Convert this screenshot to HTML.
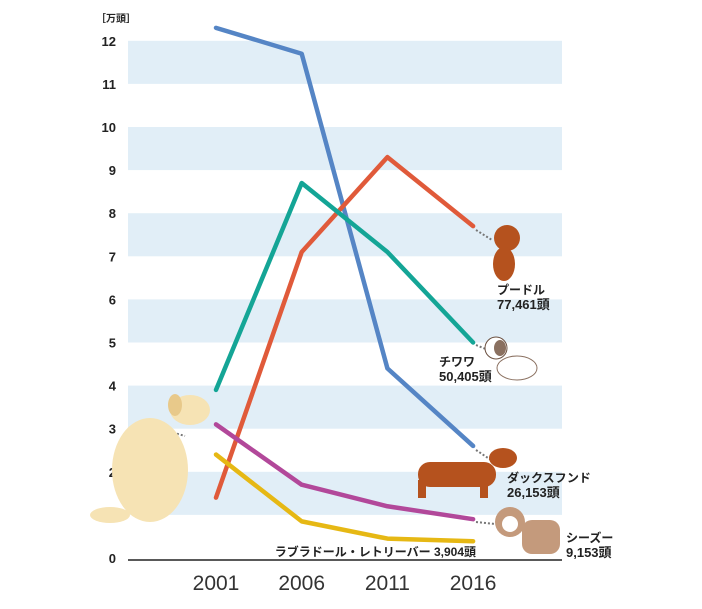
<!DOCTYPE html>
<html><head><meta charset="utf-8"><style>
body{margin:0;background:#fff;}
svg text{font-family:"Liberation Sans","Noto Sans CJK JP",sans-serif;}
</style></head><body>
<svg id="c" width="702" height="604" viewBox="0 0 702 604" xmlns="http://www.w3.org/2000/svg">
<g id="bands"></g><g id="yt"></g><g id="xt"></g><g id="lines"></g>
<g id="dogs"></g>
</svg>
<script>
const years=["2001","2006","2011","2016"];
const yTicks=[0,1,2,3,4,5,6,7,8,9,10,11,12];
const dachshund=[12.3,11.7,4.4,2.6];
const poodle=[1.4,7.1,9.3,7.7];
const chihuahua=[3.9,8.7,7.1,5.0];
const shihtzu=[3.1,1.7,1.2,0.9];
const labrador=[2.4,0.85,0.45,0.39];
const NS="http://www.w3.org/2000/svg";
const x=i=>216+i*85.7;
const y=v=>558-v*43.1;
function mk(t,a,p){const e=document.createElementNS(NS,t);for(const k in a)e.setAttribute(k,a[k]);p.appendChild(e);return e;}
const bands=document.getElementById('bands');
for(let v=1;v<12;v+=2){const r=mk('rect',{x:128,y:y(v+1),width:434,height:43.1,fill:'#e1eef7'},bands);

}
const base=mk('line',{x1:128,x2:562,y1:560,y2:560,stroke:'#222','stroke-width':1.5},bands);


const yt=document.getElementById('yt');
const unit=mk('text',{x:96,y:22,'font-size':10,'font-weight':'bold',fill:'#222'},yt);unit.textContent='［万頭］';


yTicks.forEach(v=>{const t=mk('text',{x:116,y:y(v)+5,'font-size':13,'font-weight':'bold','text-anchor':'end',fill:'#222'},yt);t.textContent=v;

});
const xt=document.getElementById('xt');
years.forEach((yr,i)=>{const t=mk('text',{x:x(i),y:590,'font-size':21,'text-anchor':'middle',fill:'#333'},xt);t.textContent=yr;

});
const lines=document.getElementById('lines');
[[dachshund,'#5585c5','dachshund-line'],[poodle,'#e05a3a','poodle-line'],[chihuahua,'#14a596','chihuahua-line'],[shihtzu,'#b2489a','shihtzu-line'],[labrador,'#e6b814','labrador-line']].forEach(([d,c,n])=>{
const p=mk('polyline',{points:d.map((v,i)=>x(i)+','+y(v)).join(' '),fill:'none',stroke:c,'stroke-width':4.5,'stroke-linecap':'round','stroke-linejoin':'round'},lines);

});
const dogs=document.getElementById('dogs');
function leash(a,b,c,d){mk('line',{x1:a,y1:b,x2:c,y2:d,stroke:'#777','stroke-width':2,'stroke-dasharray':'2 2'},dogs);}
leash(476,230,492,240);leash(476,345,488,350);leash(476,450,500,466);leash(476,522,495,524);leash(150,426,185,436);
function lbl(tx,ty,a,b,anchor){const t=mk('text',{x:tx,y:ty,'font-size':12,'font-weight':'bold',fill:'#222','text-anchor':anchor||'start'},dogs);t.textContent=a;


if(b){const t2=mk('text',{x:tx,y:ty+15,'font-size':13,'font-weight':'bold',fill:'#222','text-anchor':anchor||'start'},dogs);t2.textContent=b;

}}
// poodle
mk('circle',{cx:507,cy:238,r:13,fill:'#b5521e'},dogs);mk('ellipse',{cx:504,cy:264,rx:11,ry:17,fill:'#b5521e'},dogs);
lbl(497,294,'プードル','77,461頭');
// chihuahua
mk('ellipse',{cx:517,cy:368,rx:20,ry:12,fill:'#fff',stroke:'#8a7060'},dogs);mk('circle',{cx:496,cy:348,r:11,fill:'#fff',stroke:'#6b5040'},dogs);
mk('ellipse',{cx:500,cy:348,rx:6,ry:8,fill:'#8a7060'},dogs);
lbl(439,366,'チワワ','50,405頭');
// dachshund
mk('rect',{x:418,y:462,width:78,height:25,rx:12,fill:'#b5521e'},dogs);mk('ellipse',{cx:503,cy:458,rx:14,ry:10,fill:'#b5521e'},dogs);
mk('rect',{x:418,y:480,width:8,height:18,fill:'#b5521e'},dogs);mk('rect',{x:480,y:480,width:8,height:18,fill:'#b5521e'},dogs);
lbl(507,482,'ダックスフンド','26,153頭');
// shihtzu
mk('circle',{cx:510,cy:522,r:15,fill:'#c49a7c'},dogs);mk('rect',{x:522,y:520,width:38,height:34,rx:10,fill:'#c49a7c'},dogs);
mk('circle',{cx:510,cy:524,r:8,fill:'#fff'},dogs);
lbl(566,542,'シーズー','9,153頭');
// labrador
mk('ellipse',{cx:150,cy:470,rx:38,ry:52,fill:'#f6e3b4'},dogs);mk('ellipse',{cx:190,cy:410,rx:20,ry:15,fill:'#f6e3b4'},dogs);
mk('ellipse',{cx:110,cy:515,rx:20,ry:8,fill:'#f6e3b4'},dogs);
mk('ellipse',{cx:175,cy:405,rx:7,ry:11,fill:'#e8c98a'},dogs);
const l=mk('text',{x:476,y:556,'font-size':12,'font-weight':'bold',fill:'#222','text-anchor':'end'},dogs);l.textContent='ラブラドール・レトリーバー 3,904頭';


</script>
</body></html>
